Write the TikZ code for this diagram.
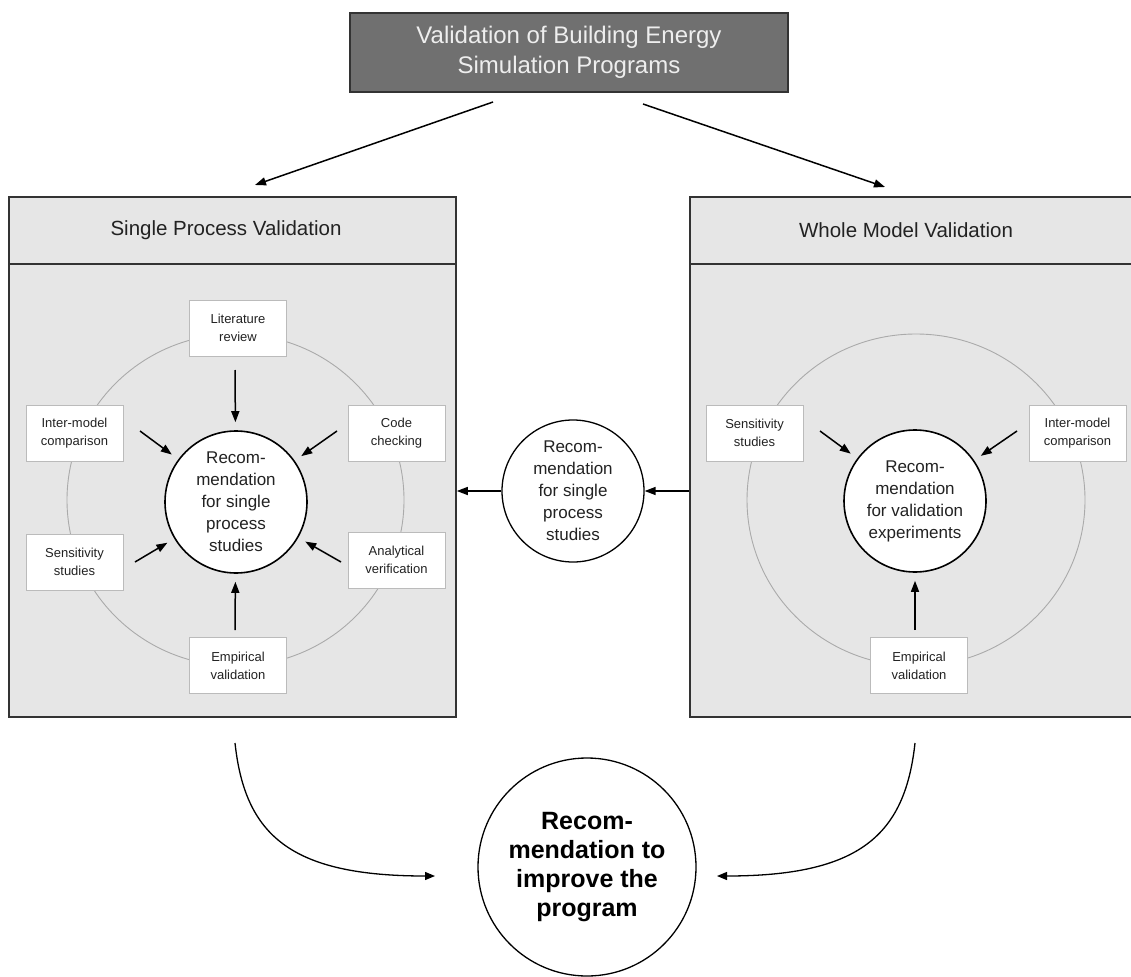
\documentclass[tikz,border=0pt]{standalone}
\usepackage{fontspec}
\setmainfont{Liberation Sans}
\usetikzlibrary{arrows.meta}
\definecolor{panel}{HTML}{E6E6E6}
\definecolor{edge}{HTML}{333333}
\definecolor{boxedge}{HTML}{BBBBBB}
\definecolor{ringgray}{HTML}{AAAAAA}
\definecolor{ink}{HTML}{222222}
\definecolor{titlefill}{HTML}{707070}
\definecolor{titleink}{HTML}{EEEEEE}
\begin{document}
\begin{tikzpicture}[x=1pt,y=-1pt,
  panelbox/.style={draw=edge, line width=1.6pt, fill=panel, minimum height=520pt, inner sep=0pt},
  headtext/.style={font=\fontsize{20.5}{24}\selectfont, text=ink},
  smallbox/.style={draw=boxedge, fill=white, line width=0.8pt, minimum width=97pt,
    minimum height=56pt, inner sep=0pt, align=center, text=ink,
    font=\fontsize{13}{18}\selectfont},
  recbox/.style={circle, draw=black, line width=1.6pt, fill=white, minimum size=142pt,
    inner sep=0pt, align=center, text=ink, font=\fontsize{17}{22}\selectfont},
  ring/.style={draw=ringgray, line width=0.9pt},
  arr/.style={-{Triangle[length=11pt,width=8pt]}, line width=1.5pt, draw=black},
  curvearr/.style={-{Triangle[length=10pt,width=8pt]}, line width=1.3pt, draw=black}]
\clip (0,0) rectangle (1131,976);
\fill[white] (0,0) rectangle (1131,976);

% title
\node[draw=edge, line width=1.2pt, fill=titlefill, minimum width=438pt, minimum height=79pt,
  align=center, text=titleink, font=\fontsize{24}{30}\selectfont] (title) at (569,52.5)
  {Validation of Building Energy\\Simulation Programs};

% the two panels
\node[panelbox, minimum width=447pt] (lbox) at (232.5,457) {};
\node[panelbox, minimum width=455pt] (rbox) at (917.5,457) {};
\draw[edge, line width=1.6pt] (lbox.west |- 0,264) -- (lbox.east |- 0,264);
\draw[edge, line width=1.6pt] (rbox.west |- 0,264) -- (rbox.east |- 0,264);
\node[headtext] (lhead) at (226,230) {Single Process Validation};
\node[headtext] (rhead) at (906,230) {Whole Model Validation};

% guide rings
\draw[ring] (235.5,500) ellipse [x radius=168.5, y radius=166];
\draw[ring] (916,500) ellipse [x radius=169, y radius=166];

% single process activities
\node[smallbox] (lit)  at (238,328)   {Literature\\review};
\node[smallbox] (liml) at (74.5,433)  {Inter-model\\comparison};
\node[smallbox] (code) at (396.5,433) {Code\\checking};
\node[smallbox] (lsen) at (74.5,562)  {Sensitivity\\studies};
\node[smallbox] (anal) at (396.5,560) {Analytical\\verification};
\node[smallbox] (lemp) at (238,665.5) {Empirical\\validation};
\node[recbox] (lrec) at (236,502) {Recom-\\mendation\\for single\\process\\studies};

% whole model activities
\node[smallbox] (rsen) at (754.5,433)  {Sensitivity\\studies};
\node[smallbox] (riml) at (1077.5,433) {Inter-model\\comparison};
\node[smallbox] (remp) at (919,665.5)  {Empirical\\validation};
\node[recbox] (rrec) at (915,501) {Recom-\\mendation\\for validation\\experiments};

% feedback between the panels
\node[recbox, line width=1.3pt] (mrec) at (573,491) {Recom-\\mendation\\for single\\process\\studies};

% final recommendation
\node[circle, draw=black, line width=1.3pt, fill=white, minimum size=218pt, inner sep=0pt,
  align=center, text=black, font=\fontsize{25}{29}\selectfont\bfseries] (final) at (587,867)
  {Recom-\\mendation to\\improve the\\program};

% arrow start points
\coordinate (tl0) at (493,102);
\coordinate (tl1) at (255,185);
\coordinate (tr0) at (643,104);
\coordinate (tr1) at (885,187);
\coordinate (s1) at (235,370);
\coordinate (s2) at (140,431);
\coordinate (s3) at (337,431);
\coordinate (s4) at (135,562);
\coordinate (s5) at (341,562);
\coordinate (s6) at (235,630);
\coordinate (r1) at (820,431);
\coordinate (r2) at (1017,431);
\coordinate (r3) at (915,630);
\coordinate (bl0) at (235,743);
\coordinate (bl1) at (435,876);
\coordinate (br0) at (915,743);
\coordinate (br1) at (717,876);

% connectors
\draw[arr] (tl0) -- (tl1);
\draw[arr] (tr0) -- (tr1);
\foreach \s in {s1,s2,s3,s4,s5,s6} \draw[arr, shorten >=8pt] (\s) -- (lrec);
\foreach \s in {r1,r2,r3} \draw[arr, shorten >=8pt] (\s) -- (rrec);
\draw[arr] (rbox.west |- mrec.east) -- (mrec.east);
\draw[arr] (mrec.west) -- (lbox.east |- mrec.west);
\draw[curvearr] (bl0) .. controls (245,835) and (290,876) .. (bl1);
\draw[curvearr] (br0) .. controls (905,835) and (860,876) .. (br1);
\end{tikzpicture}
\end{document}
